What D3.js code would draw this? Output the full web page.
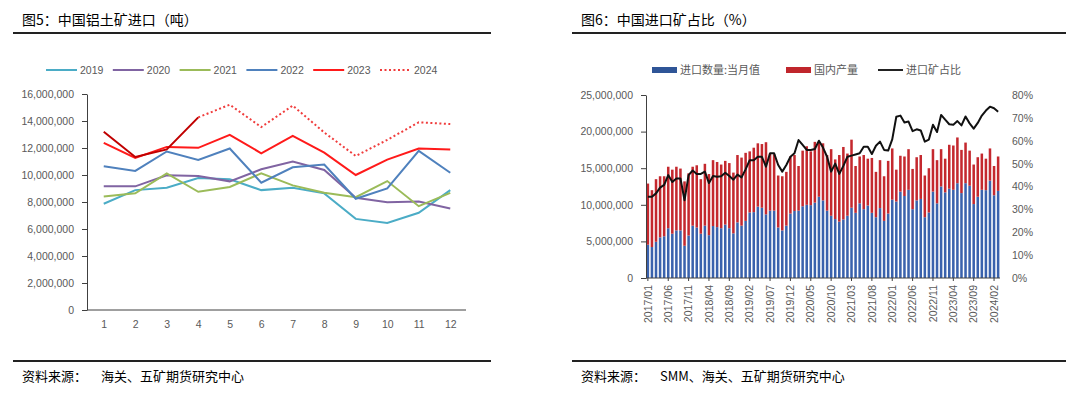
<!DOCTYPE html>
<html lang="zh">
<head>
<meta charset="utf-8">
<title>铝土矿进口</title>
<script src="https://d3js.org/d3.v7.min.js"></script>
<style>
  body { margin: 0; background: #fff; }
  text { font-family: "Liberation Sans", "Noto Sans CJK SC", sans-serif; }
  .cjk { font-family: "Noto Sans CJK SC", sans-serif; }
</style>
</head>
<body>
<script>
// ---- left chart: monthly bauxite imports (tons), by year ----
var months = [1, 2, 3, 4, 5, 6, 7, 8, 9, 10, 11, 12];
var y2019 = [7.87, 8.88, 9.06, 9.78, 9.68, 8.88, 9.06, 8.64, 6.75, 6.45, 7.2, 8.88];
var y2020 = [9.16, 9.16, 9.98, 9.93, 9.53, 10.42, 11.0, 10.37, 8.31, 7.99, 8.04, 7.52];
var y2021 = [8.41, 8.64, 10.12, 8.76, 9.11, 10.12, 9.23, 8.68, 8.36, 9.55, 7.69, 8.68];
var y2022 = [10.65, 10.3, 11.74, 11.12, 11.96, 9.43, 10.57, 10.77, 8.24, 9.0, 11.79, 10.17];
var y2023 = [12.38, 11.27, 12.08, 12.01, 12.98, 11.61, 12.9, 11.66, 10.0, 11.14, 11.96, 11.89];
var y2024 = [13.2, 11.34, 11.9, 14.27];               // months 1-4, solid
var y2024Dot = [null, null, null, 14.27, 15.21, 13.55, 15.14, 13.15, 11.41, 12.6, 13.9, 13.77];
var leftTicks = [0, 2, 4, 6, 8, 10, 12, 14, 16];     // million tons

// ---- right chart: import share (2017/01 - 2024/03) ----
var importQty = [4.55,4.23,4.95,5.55,5.7,6.8,6.05,6.5,6.5,4.4,
  5.8,7.15,6.9,6.05,7.15,5.85,7.1,6.95,6.8,7.3,
  6.8,6.1,7.6,7.15,7.8,8.95,9.0,9.75,9.6,8.7,
  9.2,9.2,6.9,6.5,7.15,8.8,9.15,9.2,9.8,10.0,
  9.95,10.3,11.1,10.6,9.2,8.5,8.05,7.7,8.0,8.5,
  9.6,8.9,10.2,9.4,9.9,8.9,8.3,9.55,7.8,8.8,
  10.7,10.45,11.8,11.2,12.05,9.4,10.6,10.8,8.3,8.95,
  11.8,10.2,12.5,11.7,12.2,12.05,12.95,11.6,12.95,12.6,
  10.1,11.1,12.05,12.0,13.3,11.3,11.9];
var domestic = [8.35,7.77,8.55,8.35,8.2,8.4,8.75,8.7,8.45,8.8,
  8.5,8.05,8.5,7.45,8.45,8.35,9.0,8.9,8.7,8.7,
  8.9,8.3,9.2,9.3,9.3,8.35,8.8,8.65,8.7,9.85,
  7.8,7.7,7.1,7.4,7.35,7.8,7.65,6.1,7.6,8.0,
  7.35,8.3,7.4,7.8,7.6,9.1,8.15,9.1,9.9,8.5,
  9.3,6.4,6.4,7.4,6.4,7.5,6.2,6.55,6.1,7.2,
  7.0,4.35,4.9,5.4,5.55,5.5,5.9,6.0,5.7,6.05,
  5.8,5.9,5.1,4.6,6.0,6.05,6.25,5.9,5.55,4.8,
  5.4,5.4,4.95,4.3,4.4,4.0,4.7];
var importShare = [35.5,35.5,37,39.5,40.7,45,42,43.5,43.5,34,
  45,47,45.5,45.5,46.5,41.5,44.6,44.3,44.5,46,
  44.6,43,45.2,44,47.5,51.5,51.5,53,53,48.7,
  54.5,54.5,49.4,46.5,49.4,53,54.5,60.3,58.2,56,
  56,56.4,60,57,53,46.5,50,45.5,49,53,
  53.5,54,54.5,57.4,57.4,54.2,57.8,59.6,56,55.7,
  60.6,70.5,71,68,68.4,64.2,65,64.5,59.6,60.5,
  67,63.8,71.3,69.2,67.2,67,68.6,66.7,70.6,67.6,
  65.3,67.8,71,73.2,74.9,74.2,72.7];
var rightTicks = [0, 5, 10, 15, 20, 25];            // million tons
var pctTicks = [0, 10, 20, 30, 40, 50, 60, 70, 80];

var dates = [];
for (var k = 0; k < importQty.length; k++) {
  var yy = 2017 + Math.floor(k / 12), mm = k % 12 + 1;
  dates.push(yy + "/" + (mm < 10 ? "0" + mm : mm));
}

var W = 1080, H = 397;
var grey = "#595959";
var fmt = d3.format(",");

var svg = d3.select("body").append("svg")
  .attr("width", W).attr("height", H);

// titles, rules, sources
function frame(x0, x1, title, source) {
  svg.append("text").attr("class", "cjk").attr("x", x0 + 9).attr("y", 25)
    .attr("font-size", 14).attr("fill", "#000").text(title);
  svg.append("line").attr("x1", x0).attr("x2", x1).attr("y1", 33).attr("y2", 33)
    .attr("stroke", "#222").attr("stroke-width", 2);
  svg.append("line").attr("x1", x0).attr("x2", x1).attr("y1", 361).attr("y2", 361)
    .attr("stroke", "#222").attr("stroke-width", 2);
  svg.append("text").attr("class", "cjk").attr("x", x0 + 9).attr("y", 381)
    .attr("font-size", 13).attr("fill", "#000").text("资料来源：");
  svg.append("text").attr("class", "cjk").attr("x", x0 + 88).attr("y", 381)
    .attr("font-size", 13).attr("fill", "#000").text(source);
}
frame(13, 491, "图5：中国铝土矿进口（吨）", "海关、五矿期货研究中心");
frame(572, 1066, "图6：中国进口矿占比（%）", "SMM、海关、五矿期货研究中心");

// ================= LEFT CHART =================
var xL = d3.scalePoint().domain(months).range([88, 466]).padding(0.5);
var yL = d3.scaleLinear().domain([0, 16]).range([310, 94]);

var gL = svg.append("g");
gL.append("g").attr("transform", "translate(87,0)")
  .call(d3.axisLeft(yL).tickValues(leftTicks).tickSize(5).tickSizeOuter(0).tickPadding(8)
    .tickFormat(function(d) { return fmt(d * 1e6); }))
  .call(function(g) {
    g.select(".domain").attr("stroke", "#404040");
    g.selectAll(".tick line").attr("stroke", "#404040");
    g.selectAll("text").attr("fill", grey).attr("font-size", 10.5);
  });
gL.append("g").attr("transform", "translate(0,310)")
  .call(d3.axisBottom(xL).tickSize(0).tickPadding(11))
  .call(function(g) {
    g.select(".domain").attr("d", "M87,0H466").attr("stroke", "#404040");
    g.selectAll("text").attr("fill", grey).attr("font-size", 10.5);
  });

var seriesL = [
  { name: "2019", data: y2019, color: "#4bacc6" },
  { name: "2020", data: y2020, color: "#8064a2" },
  { name: "2021", data: y2021, color: "#9bbb59" },
  { name: "2022", data: y2022, color: "#4f81bd" },
  { name: "2023", data: y2023, color: "#ff1a1a" }
];
var lineL = d3.line()
  .defined(function(d) { return d != null; })
  .x(function(d, i) { return xL(months[i]); })
  .y(function(d) { return yL(d); });

seriesL.forEach(function(s) {
  gL.append("path").attr("d", lineL(s.data)).attr("fill", "none")
    .attr("stroke", s.color).attr("stroke-width", 2);
});
gL.append("path").attr("d", lineL(y2024Dot)).attr("fill", "none")
  .attr("stroke", "#f03c3c").attr("stroke-width", 2).attr("stroke-dasharray", "2,2.5");
gL.append("path").attr("d", lineL(y2024)).attr("fill", "none")
  .attr("stroke", "#c00000").attr("stroke-width", 2);

// legend
var legL = seriesL.concat([{ name: "2024", color: "#f03c3c", dash: "2,2.5" }]);
legL.forEach(function(s, i) {
  var lx = 46 + i * 66.8;
  gL.append("line").attr("x1", lx).attr("x2", lx + 31).attr("y1", 70).attr("y2", 70)
    .attr("stroke", s.color).attr("stroke-width", 2)
    .attr("stroke-dasharray", s.dash || null);
  gL.append("text").attr("x", lx + 34).attr("y", 73.5)
    .attr("font-size", 10.5).attr("fill", grey).text(s.name);
});

// ================= RIGHT CHART =================
var xR = d3.scaleBand().domain(dates).range([646, 1000]).paddingInner(0.38).paddingOuter(0.15);
var yR = d3.scaleLinear().domain([0, 25]).range([278, 95]);
var yP = d3.scaleLinear().domain([0, 80]).range([278, 95]);

var gR = svg.append("g");

gR.selectAll("rect.imp").data(importQty).enter().append("rect")
  .attr("class", "imp")
  .attr("x", function(d, i) { return xR(dates[i]); })
  .attr("width", xR.bandwidth())
  .attr("y", function(d) { return yR(d); })
  .attr("height", function(d) { return yR(0) - yR(d); })
  .attr("fill", "#3a62ad");
gR.selectAll("rect.dom").data(domestic).enter().append("rect")
  .attr("class", "dom")
  .attr("x", function(d, i) { return xR(dates[i]); })
  .attr("width", xR.bandwidth())
  .attr("y", function(d, i) { return yR(importQty[i] + d); })
  .attr("height", function(d) { return yR(0) - yR(d); })
  .attr("fill", "#c4282e");

var lineR = d3.line()
  .x(function(d, i) { return xR(dates[i]) + xR.bandwidth() / 2; })
  .y(function(d) { return yP(d); });
gR.append("path").attr("d", lineR(importShare)).attr("fill", "none")
  .attr("stroke", "#111").attr("stroke-width", 2).attr("stroke-linejoin", "round");

gR.append("g").attr("transform", "translate(646,0)")
  .call(d3.axisLeft(yR).tickValues(rightTicks).tickSize(5).tickSizeOuter(0).tickPadding(8)
    .tickFormat(function(d) { return fmt(d * 1e6); }))
  .call(function(g) {
    g.select(".domain").attr("stroke", "#404040");
    g.selectAll(".tick line").attr("stroke", "#404040");
    g.selectAll("text").attr("fill", grey).attr("font-size", 10.5);
  });
gR.append("g").attr("transform", "translate(1000,0)")
  .call(d3.axisRight(yP).tickValues(pctTicks).tickSize(0).tickPadding(12)
    .tickFormat(function(d) { return d + "%"; }))
  .call(function(g) {
    g.select(".domain").remove();
    g.selectAll("text").attr("fill", grey).attr("font-size", 10.5);
  });
gR.append("g").attr("transform", "translate(0,278)")
  .call(d3.axisBottom(xR).tickValues(dates.filter(function(d, i) { return i % 5 === 0; }))
    .tickSize(3).tickSizeOuter(0))
  .call(function(g) {
    g.select(".domain").attr("d", "M646,0H1000").attr("stroke", "#404040");
    g.selectAll(".tick line").attr("stroke", "#404040");
    g.selectAll("text").attr("fill", grey).attr("font-size", 10.5)
      .attr("transform", "rotate(-90)").attr("x", -7).attr("y", 0).attr("dy", "0.35em")
      .style("text-anchor", "end");
  });

// legend
var legR = [
  { name: "进口数量:当月值", color: "#2f5597", x: 652, type: "rect" },
  { name: "国内产量", color: "#c0262c", x: 786, type: "rect" },
  { name: "进口矿占比", color: "#222", x: 878, type: "line" }
];
legR.forEach(function(s) {
  if (s.type === "rect") {
    gR.append("rect").attr("x", s.x).attr("y", 67).attr("width", 25).attr("height", 6)
      .attr("fill", s.color);
  } else {
    gR.append("line").attr("x1", s.x).attr("x2", s.x + 25).attr("y1", 70).attr("y2", 70)
      .attr("stroke", s.color).attr("stroke-width", 2);
  }
  gR.append("text").attr("class", "cjk").attr("x", s.x + 28).attr("y", 74)
    .attr("font-size", 11).attr("fill", grey).text(s.name);
});
</script>
</body>
</html>
